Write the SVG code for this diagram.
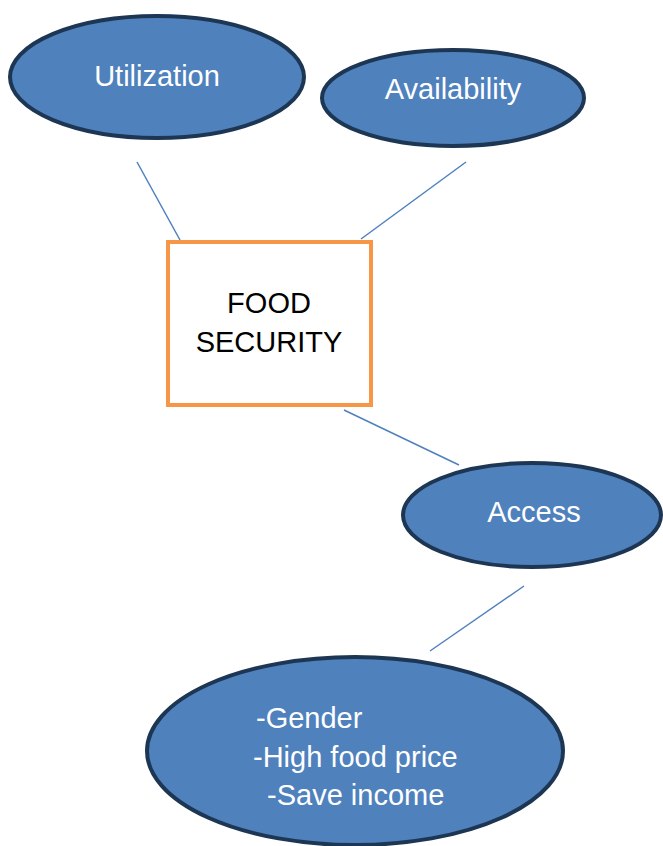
<svg xmlns="http://www.w3.org/2000/svg" width="663" height="846" viewBox="0 0 663 846">
<style>
.node ellipse{fill:#4F81BD;stroke:#1D3653;stroke-width:4}
.lbl{font-family:"Liberation Sans",Arial,sans-serif;fill:#fff;font-size:29px}
.blk{font-family:"Liberation Sans",Arial,sans-serif;fill:#000;font-size:29px}
.conn line{stroke:#4F81BD;stroke-width:1.5}
</style>
<rect width="663" height="846" fill="#fff"/>
<g id="connectors" class="conn">
<line x1="137" y1="162" x2="180" y2="240"/>
<line x1="466" y1="162" x2="361" y2="239"/>
<line x1="344" y1="410" x2="459" y2="465"/>
<line x1="524" y1="586" x2="430" y2="651"/>
</g>
<g id="utilization" class="node">
<ellipse cx="157" cy="77" rx="147" ry="61"/>
<text class="lbl" x="157" y="86" text-anchor="middle">Utilization</text>
</g>
<g id="availability" class="node">
<ellipse cx="453" cy="98" rx="131" ry="48"/>
<text class="lbl" x="453" y="99" text-anchor="middle">Availability</text>
</g>
<g id="food-security">
<rect x="168" y="242" width="203" height="163" fill="#fff" stroke="#F79646" stroke-width="4"/>
<text class="blk" x="269" y="313" text-anchor="middle">FOOD</text>
<text class="blk" x="269" y="352" text-anchor="middle">SECURITY</text>
</g>
<g id="access" class="node">
<ellipse cx="532" cy="515" rx="129" ry="52"/>
<text class="lbl" x="534" y="522" text-anchor="middle">Access</text>
</g>
<g id="factors" class="node">
<ellipse cx="355" cy="751" rx="208" ry="94"/>
<text class="lbl" x="256" y="728">-Gender</text>
<text class="lbl" x="253" y="767">-High food price</text>
<text class="lbl" x="267" y="805">-Save income</text>
</g>
</svg>
